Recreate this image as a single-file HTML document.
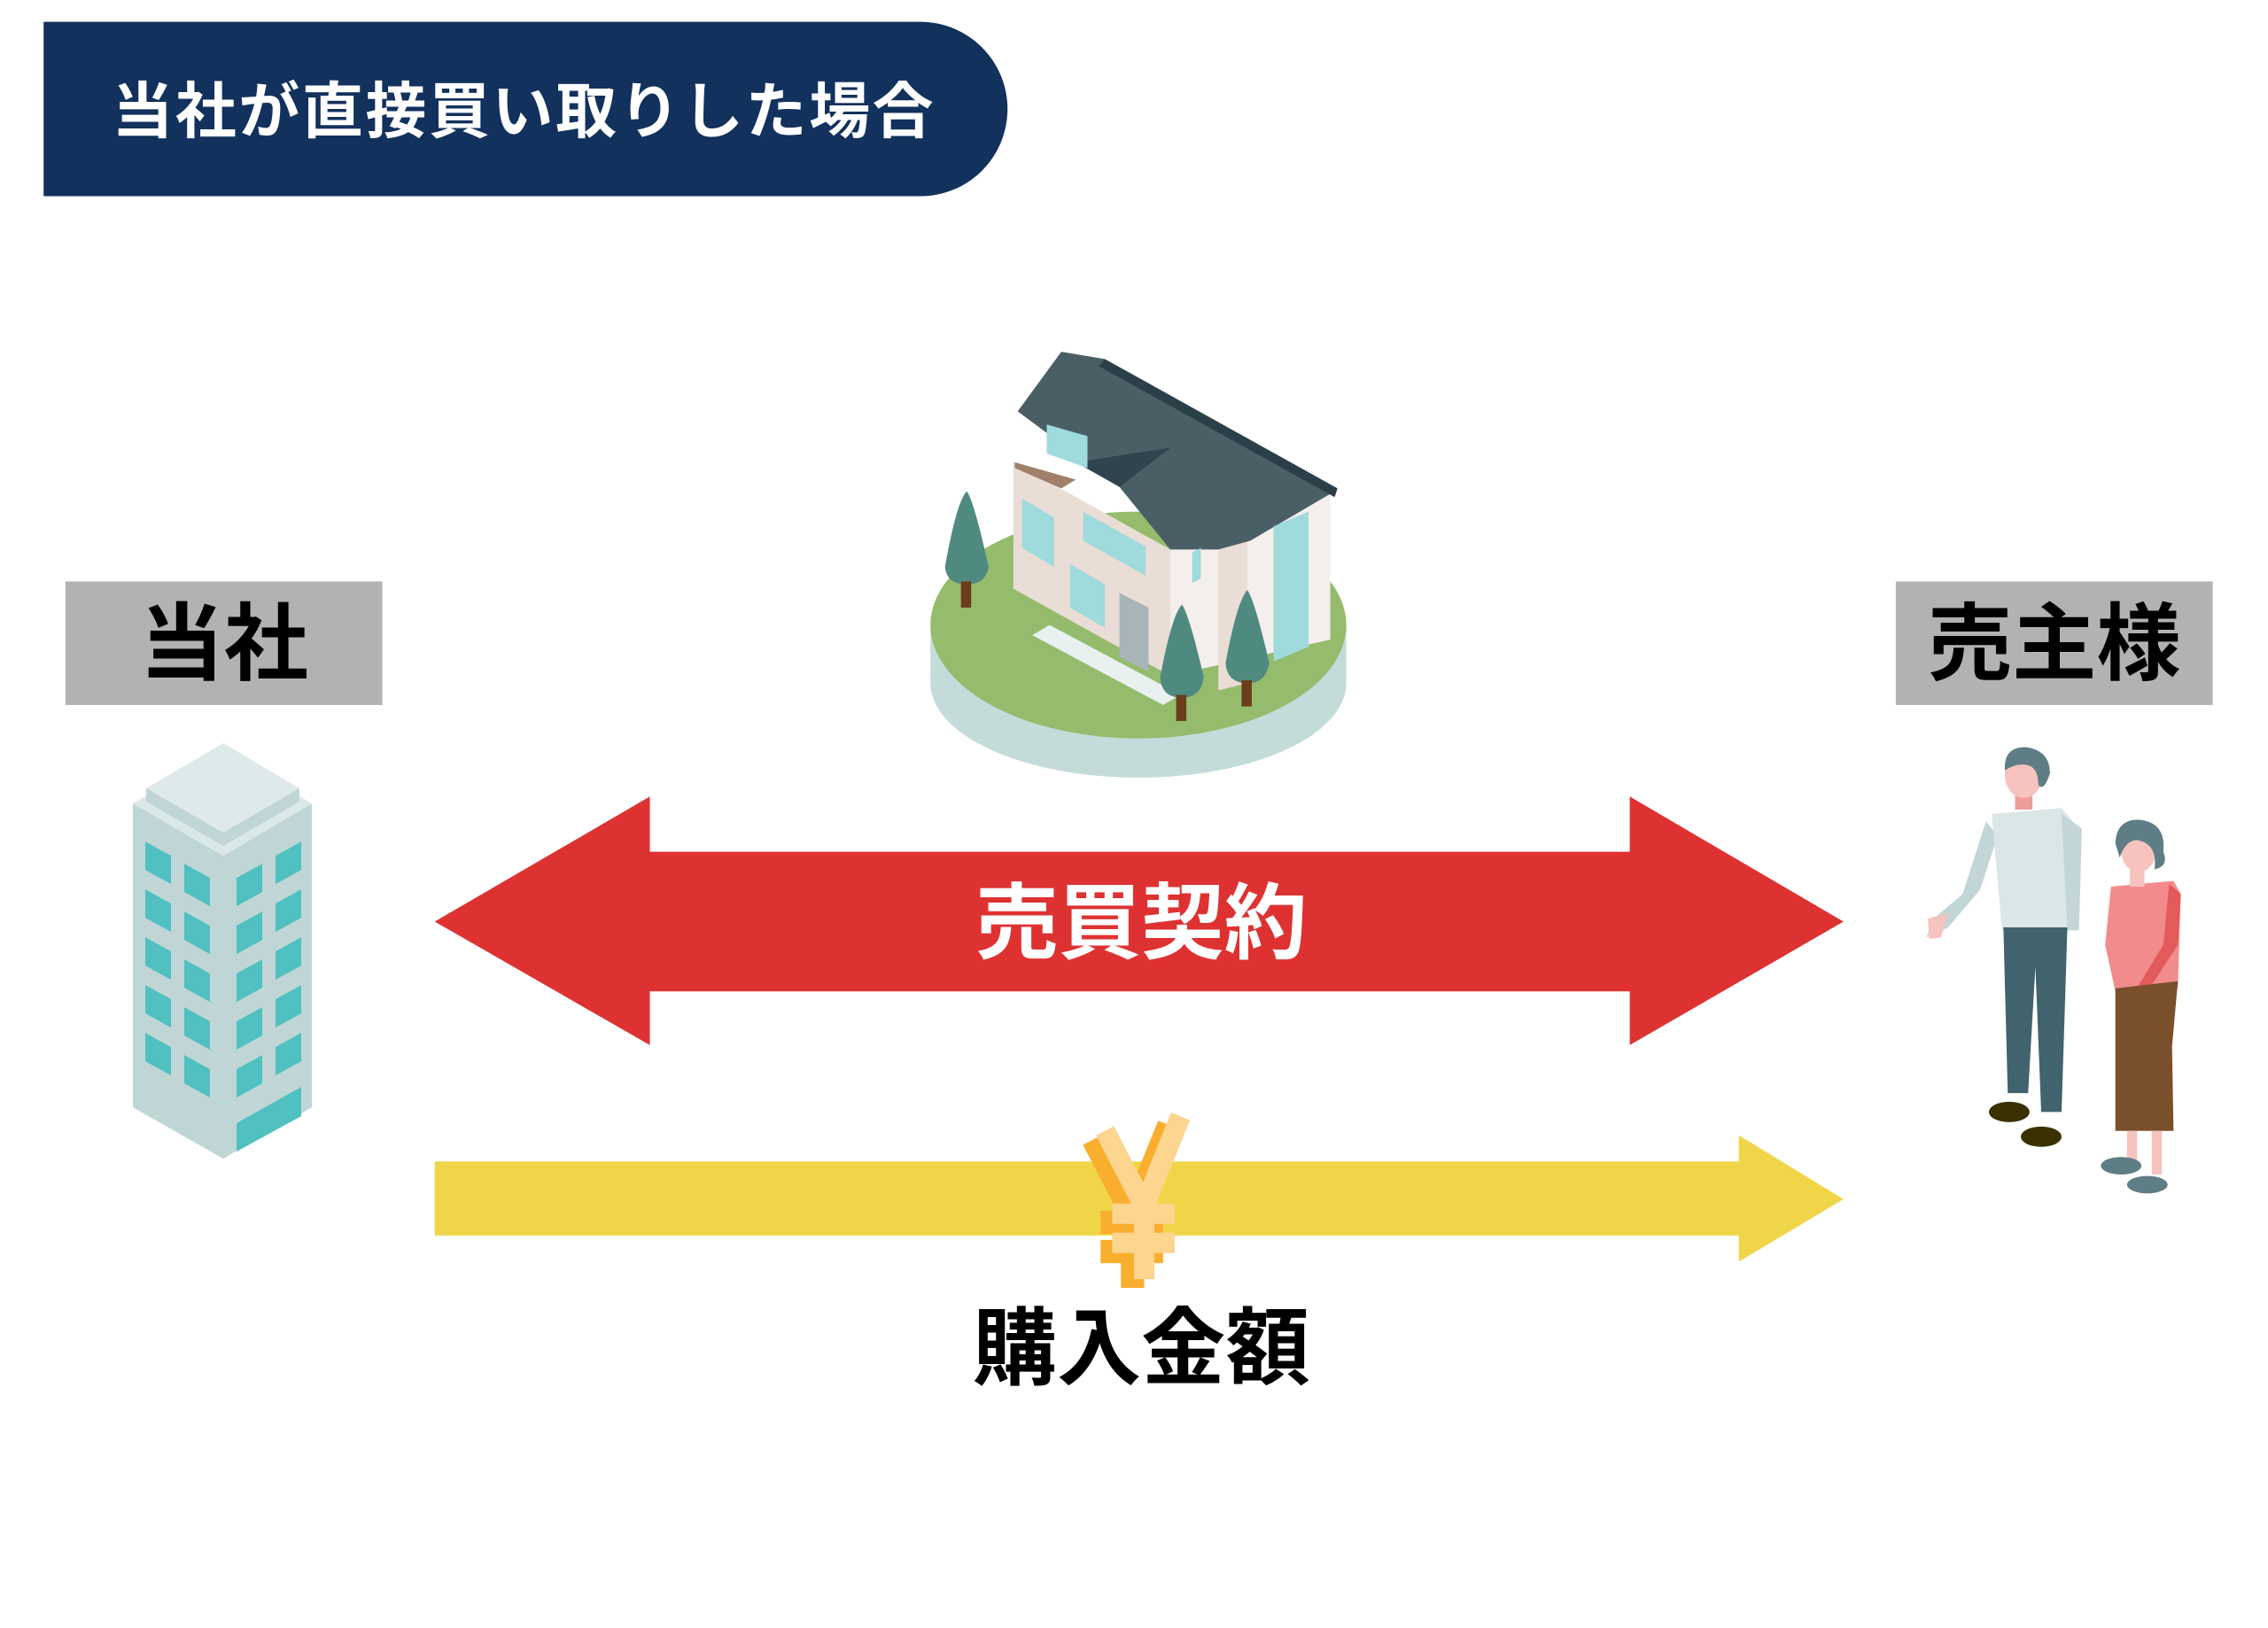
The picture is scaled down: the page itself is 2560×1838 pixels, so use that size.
<!DOCTYPE html>
<html><head><meta charset="utf-8"><style>
html,body{margin:0;padding:0;background:#fff;}
svg{display:block;}
text{font-family:"Liberation Sans","Noto Sans CJK JP",sans-serif;font-weight:bold;}
</style></head><body>
<svg width="2560" height="1838" viewBox="0 0 1560 1120" preserveAspectRatio="none" xmlns="http://www.w3.org/2000/svg">
<rect width="1560" height="1120" fill="#fff"/>
<!-- header -->
<path d="M30 15 H633 A60 60 0 0 1 633 135 H30 Z" fill="#12315c"/>
<text x="77" y="91" font-size="42" fill="#fff" letter-spacing="1.6">当社が直接買い取りした場合</text>

<!-- label boxes -->
<rect x="45" y="400" width="218" height="85" fill="#b2b2b2"/>
<text x="154" y="463" font-size="58" text-anchor="middle" fill="#000">当社</text>
<rect x="1304" y="400" width="218" height="85" fill="#b2b2b2"/>
<text x="1413" y="463" font-size="58" text-anchor="middle" fill="#000">売主様</text>

<!-- red double arrow -->
<polygon points="299,634 447,548 447,586 1121,586 1121,548 1268,634 1121,719 1121,682 447,682 447,719" fill="#de3232"/>
<text x="785" y="655" font-size="57" text-anchor="middle" fill="#fff">売買契約</text>

<!-- yellow arrow -->
<polygon points="299,799 1196,799 1196,781 1268,825 1196,868 1196,850 299,850" fill="#f1d548"/>
<text x="785" y="948" font-size="58" text-anchor="middle" fill="#000">購入金額</text>

<!-- yen -->
<g fill="none" stroke-linecap="butt" stroke-linejoin="miter">
<g stroke="#f9ae2e" stroke-width="16" transform="translate(-8,6)">
<path d="M760 778 L787 830 L812 768"/>
<path d="M787 828 L787 880"/>
<path d="M765 835 L808 835"/>
<path d="M765 855 L808 855"/>
</g>
<g stroke="#fcd58e" stroke-width="14">
<path d="M760 778 L787 830 L812 768"/>
<path d="M787 828 L787 880"/>
<path d="M765 835 L808 835"/>
<path d="M765 855 L808 855"/>
</g>
</g>

<!-- building -->
<g transform="scale(0.6094)">
<polygon points="150,907 252,966 352,907 352,1250 252,1308 150,1250" fill="#c0d6d6"/>
<polygon points="150,907 252,848 352,907 252,966" fill="#dbe8e8"/>
<polygon points="165,890 252,840 338,890 338,905 252,955 165,905" fill="#c0d6d6"/>
<polygon points="165,890 252,839 338,890 252,940" fill="#dee9e9"/>
<g fill="#50c0c0">
<polygon points="164,950 193,966 193,998 164,982"/>
<polygon points="164,1004 193,1020 193,1052 164,1036"/>
<polygon points="164,1058 193,1074 193,1106 164,1090"/>
<polygon points="164,1112 193,1128 193,1160 164,1144"/>
<polygon points="164,1166 193,1182 193,1214 164,1198"/>
<polygon points="208,975 237,991 237,1023 208,1007"/>
<polygon points="208,1029 237,1045 237,1077 208,1061"/>
<polygon points="208,1083 237,1099 237,1131 208,1115"/>
<polygon points="208,1137 237,1153 237,1185 208,1169"/>
<polygon points="208,1191 237,1207 237,1239 208,1223"/>
<polygon points="267,991 296,975 296,1007 267,1023"/>
<polygon points="267,1045 296,1029 296,1061 267,1077"/>
<polygon points="267,1099 296,1083 296,1115 267,1131"/>
<polygon points="267,1153 296,1137 296,1169 267,1185"/>
<polygon points="267,1207 296,1191 296,1223 267,1239"/>
<polygon points="311,966 340,950 340,982 311,998"/>
<polygon points="311,1020 340,1004 340,1036 311,1052"/>
<polygon points="311,1074 340,1058 340,1090 311,1106"/>
<polygon points="311,1128 340,1112 340,1144 311,1160"/>
<polygon points="311,1182 340,1166 340,1198 311,1214"/>
<polygon points="267,1268 340,1227 340,1260 267,1300"/>
</g>
</g>

<!-- house -->
<ellipse cx="783" cy="470" rx="143" ry="65" fill="#c3dcda"/>
<rect x="640" y="430" width="286" height="40" fill="#c3dcda"/>
<ellipse cx="783" cy="430" rx="143" ry="78" fill="#95bb6c"/>
<polygon points="697,318 805,378 805,465 697,405" fill="#e9ddd6"/>
<polygon points="805,378 915,338 915,440 805,465" fill="#f4efec"/>
<polygon points="838,370 858,360 858,470 838,475" fill="#e9ddd6"/>
<polygon points="730,242 760,247 918,338 860,372 838,378 805,378 770,335 700,283" fill="#4a5e66"/>
<polygon points="760,247 920,336 918,342 756,252" fill="#2b3f48"/>
<polygon points="740,318 805,308 770,335" fill="#2f444d"/>
<polygon points="720,292 748,300 748,322 720,312" fill="#9fdadc"/>
<polygon points="698,318 740,330 730,336 698,322" fill="#a0806a"/>
<g fill="#9fdadc">
<polygon points="703,343 725,356 725,390 703,377"/>
<polygon points="745,352 788,376 788,396 745,372"/>
<polygon points="736,388 760,402 760,432 736,418"/>
<polygon points="876,362 900,352 900,445 876,455"/>
<polygon points="820,380 826,377 826,398 820,401"/>
</g>
<polygon points="770,408 790,418 790,462 770,452" fill="#a8b4b8"/>
<polygon points="710,437 800,485 812,478 722,430" fill="#e9f0f0"/>
<g fill="#4f8a80">
<path d="M665 338 Q670 345 680 390 Q678 402 665 402 Q651 402 650 390 Q658 345 665 338Z"/>
<path d="M813 416 Q818 423 828 466 Q826 480 813 480 Q799 480 798 466 Q806 423 813 416Z"/>
<path d="M858 406 Q863 413 873 456 Q871 470 858 470 Q844 470 843 456 Q851 413 858 406Z"/>
</g>
<g fill="#6b3d1a">
<rect x="661" y="400" width="7" height="18"/>
<rect x="809" y="478" width="7" height="18"/>
<rect x="854" y="468" width="7" height="18"/>
</g>

<!-- people -->
<path d="M1366 565 L1350 615 L1330 632 L1325 645 L1340 638 L1362 612 L1374 575Z" fill="#c3d6d7"/>
<path d="M1326 632 L1340 628 L1335 645 L1327 646Z" fill="#f6c3be"/>
<polygon points="1370,560 1418,556 1430,570 1430,640 1377,640" fill="#dbe6e7"/>
<polygon points="1418,560 1432,570 1430,640 1422,640" fill="#c3d6d7"/>
<rect x="1386" y="543" width="12" height="14" fill="#ef9c9c"/>
<ellipse cx="1392" cy="533" rx="13" ry="16" fill="#f6c3be"/>
<path d="M1379 530 Q1378 514 1393 514 Q1410 516 1410 532 Q1406 545 1402 540 Q1402 525 1390 526 Q1385 526 1379 530Z" fill="#5e7d85"/>
<polygon points="1378,638 1422,638 1418,765 1404,765 1400,665 1395,752 1381,752" fill="#41636d"/>
<ellipse cx="1382" cy="765" rx="14" ry="7" fill="#3a3000"/>
<ellipse cx="1404" cy="782" rx="14" ry="7" fill="#3a3000"/>
<polygon points="1452,610 1495,606 1500,615 1498,680 1455,682 1448,650" fill="#f28b8b"/>
<polygon points="1492,608 1500,615 1498,650 1472,690 1466,686 1488,650" fill="#e25a5a"/>
<rect x="1465" y="598" width="10" height="12" fill="#f6c3be"/>
<ellipse cx="1471" cy="585" rx="12" ry="15" fill="#f6c3be"/>
<path d="M1455 580 Q1456 563 1472 564 Q1490 566 1488 586 Q1492 596 1482 598 Q1484 580 1470 578 Q1462 578 1458 590Z" fill="#5e7d85"/>
<polygon points="1455,680 1498,675 1494,720 1495,778 1455,778" fill="#7a4f2c"/>
<rect x="1463" y="778" width="7" height="22" fill="#f6c3be"/>
<rect x="1480" y="778" width="7" height="30" fill="#f6c3be"/>
<ellipse cx="1459" cy="802" rx="14" ry="6" fill="#5e7d85"/>
<ellipse cx="1477" cy="815" rx="14" ry="6" fill="#5e7d85"/>
</svg>
</body></html>
